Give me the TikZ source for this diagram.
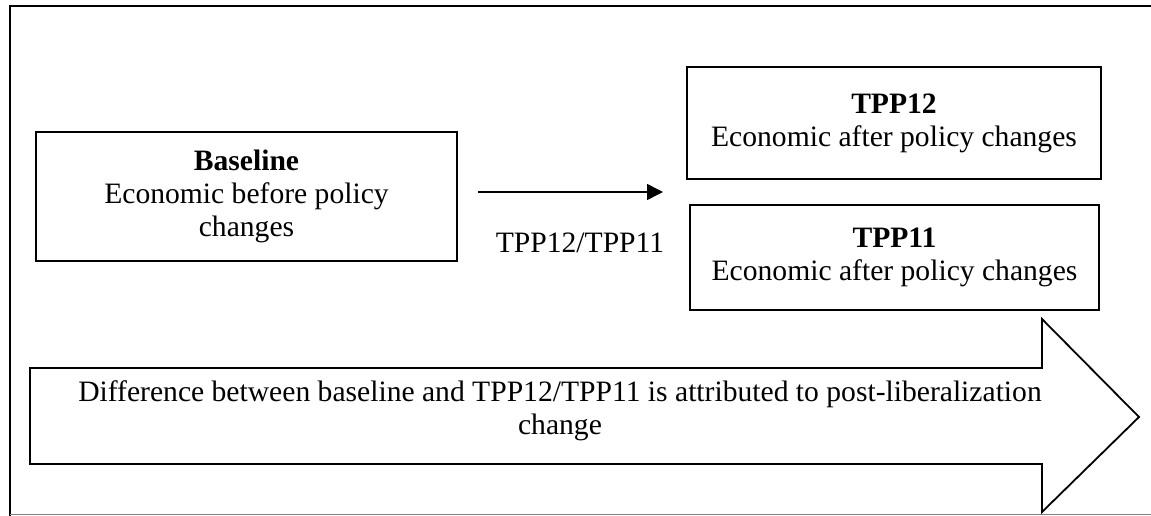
\documentclass[tikz,border=0pt]{standalone}
\usepackage{fontspec}
\setmainfont{Liberation Serif}
\usetikzlibrary{arrows.meta}
\begin{document}
\begin{tikzpicture}[x=1pt,y=-1pt,
  txt/.style={font=\fontsize{29.6}{33}\selectfont, align=center, inner sep=0pt},
  boxnode/.style={txt, draw, line width=1.8pt, rectangle},
  conn/.style={line width=1.6pt, -{Triangle[length=16pt,width=16pt]}}]
\useasboundingbox (0,0) rectangle (1151,516);
% outer frame
\draw[line width=2.4pt] (10,516) -- (10,6) -- (1151,6);
\draw[line width=1pt, gray] (10,514.5) -- (1151,514.5);
% boxes
\node[boxnode, minimum width=421pt, minimum height=129pt] (base) at (246.5,196.5)
  {\textbf{Baseline}\\Economic before policy\\changes};
\node[boxnode, minimum width=414pt, minimum height=112pt] (tpp12) at (894,123)
  {\textbf{TPP12}\\Economic after policy changes};
\node[boxnode, minimum width=409pt, minimum height=105pt] (tpp11) at (894.5,257.5)
  {\textbf{TPP11}\\Economic after policy changes};
% arrow
\coordinate (a1) at (478,192);
\coordinate (a2) at (663,192);
\draw[conn] (a1) -- (a2);
\node[txt] (lbl) at (580,243) {TPP12/TPP11};
% big arrow
\draw[line width=1.8pt, line join=miter]
  (30,368) -- (1042,368) -- (1042,319) -- (1139,417) -- (1042,512) -- (1042,464) -- (30,464) -- cycle;
\node[txt] (diff) at (560,411)
  {Difference between baseline and TPP12/TPP11 is attributed to post-liberalization\\change};
\end{tikzpicture}
\end{document}
